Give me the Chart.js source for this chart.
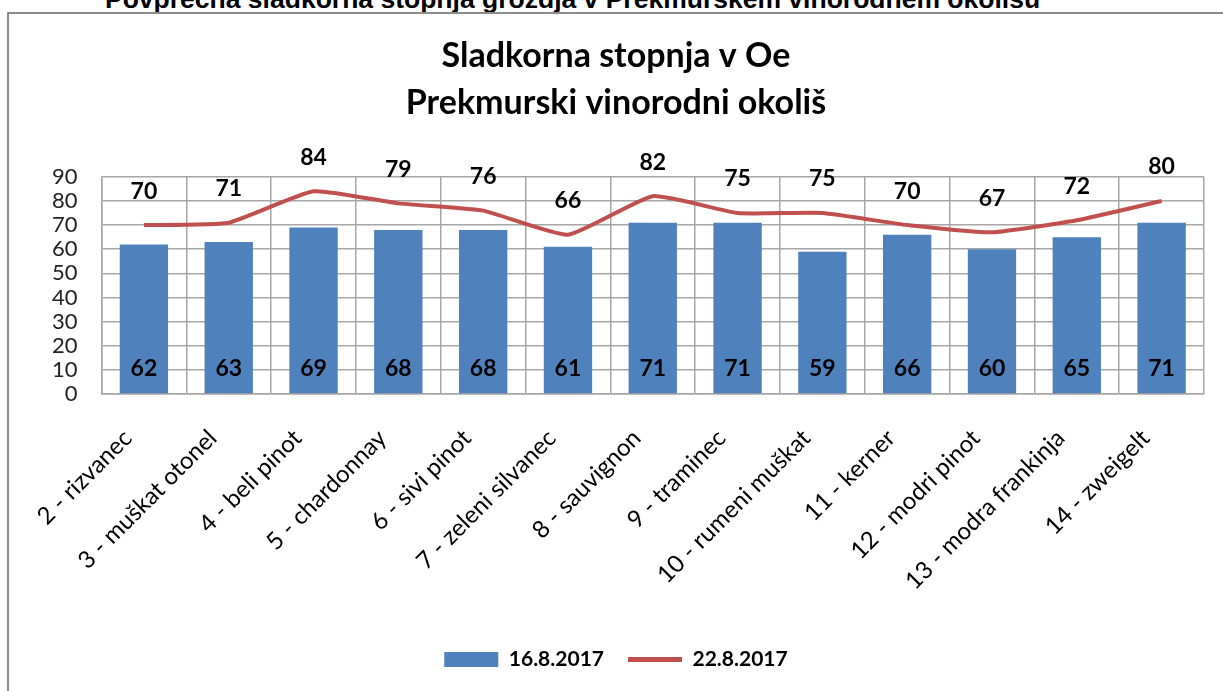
<!DOCTYPE html>
<html>
<head>
<meta charset="utf-8">
<script src="https://cdn.jsdelivr.net/npm/chart.js@4/dist/chart.umd.min.js"></script>
<style>
  body { margin: 0; background: #fff; width: 1223px; height: 691px; overflow: hidden; position: relative; }
  #top { position: absolute; left: 0; top: -16px; width: 1223px; padding-left: 105px; box-sizing: border-box;
         font: bold 26.5px "Liberation Sans", Arial, sans-serif; color: #000; white-space: nowrap; }
  #frame { position: absolute; left: 7px; top: 12px; width: 1230px; height: 700px;
           border-left: 2px solid #8c8c8c; border-top: 2px solid #8c8c8c; }
  #wrap { position: absolute; left: 0; top: 0; width: 1223px; height: 691px; }
</style>
</head>
<body>
<div id="top">Povprečna sladkorna stopnja grozdja v Prekmurskem vinorodnem okolišu</div>
<div id="frame"></div>
<div id="wrap"><canvas id="myChart"></canvas></div>
<script>
var ctx = document.getElementById("myChart").getContext("2d");
const sorte = ["2 - rizvanec","3 - muškat otonel","4 - beli pinot","5 - chardonnay","6 - sivi pinot",
  "7 - zeleni silvanec","8 - sauvignon","9 - traminec","10 - rumeni muškat","11 - kerner",
  "12 - modri pinot","13 - modra frankinja","14 - zweigelt"];
const avg16 = [62,63,69,68,68,61,71,71,59,66,60,65,71]; // 16.8.2017
const avg22 = [70,71,84,79,76,66,82,75,75,70,67,72,80]; // 22.8.2017

const fontName = "Lato, 'Open Sans', sans-serif";

// vrednosti na stolpcih in nad crto
const valueLabels = {
  id: 'valueLabels',
  afterDatasetsDraw(chart) {
    const c = chart.ctx;
    const y0 = chart.scales.y.getPixelForValue(0);
    c.save();
    c.font = "bold 23px " + fontName;
    c.fillStyle = "#000";
    c.textAlign = "center";
    c.textBaseline = "middle";
    chart.getDatasetMeta(0).data.forEach((el, i) => {
      c.fillText(avg16[i], el.x, y0 - 25);
    });
    chart.getDatasetMeta(1).data.forEach((el, i) => {
      c.fillText(avg22[i], el.x, el.y - 34);
    });
    c.restore();
  }
};

const chart = new Chart(ctx, {
  type: "bar",
  data: {
    labels: sorte,
    datasets: [{
      type: "bar",
      label: "16.8.2017",
      data: avg16,
      backgroundColor: "#4f81bd",
      borderWidth: 0,
      barPercentage: 0.57,
      categoryPercentage: 1,
      order: 2
    },{
      type: "line",
      label: "22.8.2017",
      data: avg22,
      borderColor: "#c0504d",
      backgroundColor: "#c0504d",
      borderWidth: 4,
      pointRadius: 0,
      tension: 0.15,
      fill: false,
      order: 1
    }]
  },
  options: {
    responsive: true,
    maintainAspectRatio: false,
    animation: false,
    layout: { padding: { left: 28, right: 19, top: 33, bottom: 11 } },
    plugins: {
      title: {
        display: true,
        text: ["Sladkorna stopnja v Oe", "Prekmurski vinorodni okoliš"],
        color: "#000",
        font: { family: fontName, size: 34, weight: "bold", lineHeight: 1.38 },
        padding: { top: 0, bottom: 50 }
      },
      legend: {
        position: "bottom",
        labels: {
          usePointStyle: true,
          pointStyleWidth: 54,
          boxHeight: 15,
          color: "#000",
          font: { family: fontName, size: 21, weight: "bold" },
          padding: 24,
          generateLabels(ch) {
            return ch.data.datasets.map((ds, i) => ({
              text: ds.label,
              fillStyle: ds.backgroundColor,
              strokeStyle: ds.type === "line" ? ds.borderColor : ds.backgroundColor,
              lineWidth: ds.type === "line" ? 5 : 0,
              pointStyle: ds.type === "line" ? "line" : "rect",
              datasetIndex: i
            }));
          }
        }
      },
      tooltip: { enabled: false }
    },
    scales: {
      x: {
        grid: { color: "#a6a6a6", lineWidth: 1.5, offset: true, drawTicks: false },
        border: { color: "#a6a6a6", width: 1.5 },
        ticks: {
          color: "#000",
          font: { family: fontName, size: 24 },
          minRotation: 45,
          maxRotation: 45,
          autoSkip: false,
          labelOffset: -16,
          padding: 30
        },
        afterFit(scale) { scale.height = 231; }
      },
      y: {
        min: 0,
        max: 90,
        grid: { color: "#a6a6a6", lineWidth: 1.5, drawTicks: false },
        border: { color: "#a6a6a6", width: 1.5 },
        ticks: {
          stepSize: 10,
          autoSkip: false,
          color: "#222",
          font: { family: fontName, size: 22 },
          padding: 24
        }
      }
    }
  },
  plugins: [valueLabels]
});
</script>
</body>
</html>
